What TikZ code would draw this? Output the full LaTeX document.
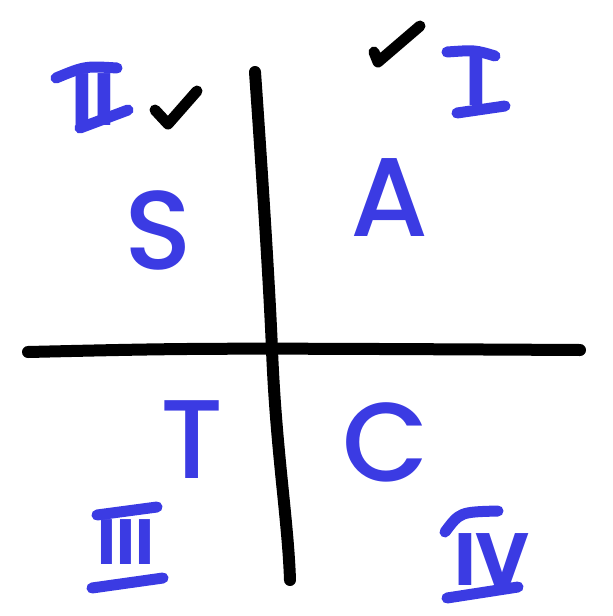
\documentclass[tikz,border=0pt]{standalone}
\usepackage{fontspec}
\setmainfont{Poppins}
\newfontfamily\handfont{Poppins Medium}
\usetikzlibrary{positioning}
\definecolor{inkblue}{HTML}{3B3BE3}

\begin{document}
\begin{tikzpicture}[
          x=1pt, y=-1pt,
          % 1. Trazos negros (ejes y marcas)
          axis/.style={line width=12pt, line cap=round, line join=round, draw=black},
          tick/.style={line width=11pt, line cap=round, line join=round, draw=black},
          % 2. Letras de cada cuadrante
          letter/.style={text=inkblue, inner sep=0pt, font=\handfont\fontsize{112}{112}\selectfont},
          % 3. Numerales romanos y sus barras
          numeral/.style={text=inkblue, inner sep=0pt, font=\bfseries\fontsize{74}{74}\selectfont},
          bar/.style={line width=11pt, line cap=round, draw=inkblue}
      ]

      \useasboundingbox (0,0) rectangle (613,616);

      % === EJES ===
      \draw[axis] (255,72) .. controls (264,200) and (270,300) .. (272,350)
                           .. controls (276,450) and (288,520) .. (290,580);
      \draw[axis] (28,352) .. controls (200,348) .. (580,350);

      % === LETRAS ===
      \node[letter] (s) at (158,230) {S};
      \node[letter] (a) at (390,198) {A};
      \node[letter] (t) at (192,440) {T};
      \node[letter] (c) at (386,442) {C};

      % === NUMERALES ===
      % Cuadrante I
      \node[numeral] (q1) at (476,80) {I};
      \draw[bar] (447,52) .. controls (475,50) .. (495,56);
      \draw[bar] (457,113) -- (505,106);

      % Cuadrante II
      \node[numeral] (q2) at (93,100) {II};
      \draw[bar] (56,78) .. controls (85,66) .. (117,68);
      \draw[bar] (80,128) -- (128,110);

      % Cuadrante III
      \node[numeral, font=\bfseries\fontsize{64}{64}\selectfont] (q3) at (126,542) {III};
      \draw[bar] (97,515) -- (157,507);
      \draw[bar] (92,588) -- (163,578);

      % Cuadrante IV
      \node[numeral] (q4) at (492,560) {IV};
      \draw[bar] (445,532) .. controls (460,512) .. (498,511);
      \draw[bar] (447,598) -- (518,587);

      % === MARCAS ===
      \draw[tick] (155,110) -- (168,124) -- (197,91);
      \draw[tick] (374,52) -- (378,62) -- (420,26);

      \end{tikzpicture}
\end{document}
